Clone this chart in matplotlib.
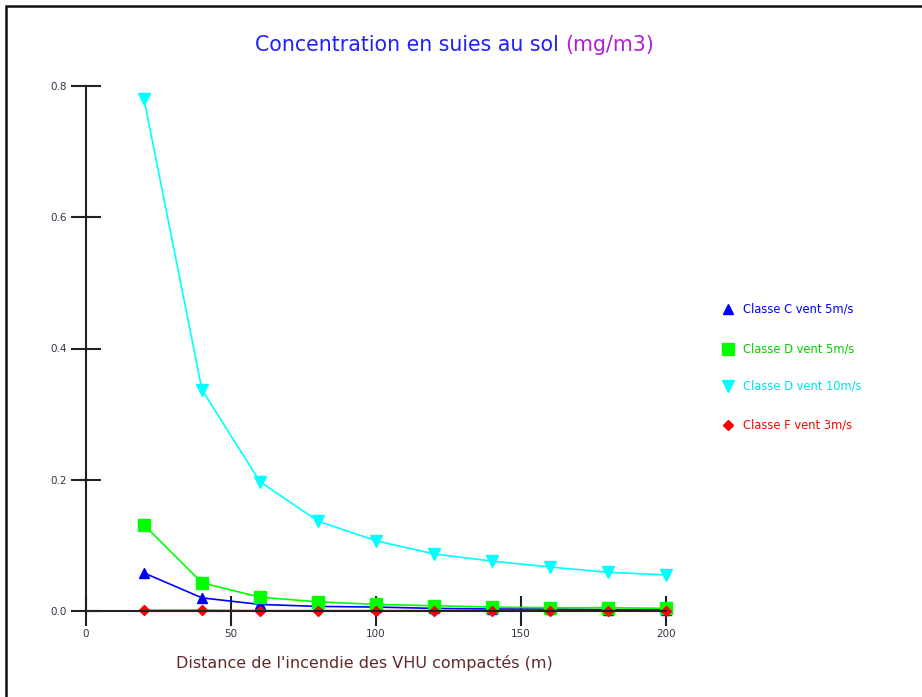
import matplotlib
matplotlib.use("Agg")
import matplotlib.pyplot as plt
from matplotlib.lines import Line2D
from matplotlib.patches import Rectangle

plt.rcParams['font.family'] = ['DejaVu Sans']

distance = [20, 40, 60, 80, 100, 120, 140, 160, 180, 200]
classe_c_5 = [0.058, 0.020, 0.010, 0.007, 0.006, 0.004, 0.003, 0.003, 0.002, 0.002]
classe_d_5 = [0.131, 0.043, 0.021, 0.014, 0.010, 0.008, 0.006, 0.005, 0.005, 0.004]
classe_d_10 = [0.780, 0.337, 0.197, 0.137, 0.107, 0.087, 0.076, 0.067, 0.059, 0.055]
classe_f_3 = [0.001, 0.001, 0.0005, 0.0005, 0.0005, 0.0005, 0.0005, 0.0005, 0.0005, 0.0005]

series_labels = ["Classe C vent 5m/s", "Classe D vent 5m/s", "Classe D vent 10m/s", "Classe F vent 3m/s"]
series_colors = ["#0000ff", "#00ff00", "#00ffff", "#ff0000"]
text_colors = ["#0000ff", "#00d000", "#00e0f0", "#ff0000"]
series_markers = ["^", "s", "v", "D"]
series_sizes = [7, 8, 8, 5]

xticks = [0, 50, 100, 150, 200]
yticks = [0.0, 0.2, 0.4, 0.6, 0.8]

W, H = 922, 697
fig = plt.figure(figsize=(W / 100, H / 100), dpi=100)

# outer frame
fig.patches.append(Rectangle((6 / W, -0.05), 1.1, 1 - 6 / H + 0.05, transform=fig.transFigure,
                             fill=False, edgecolor="#111111", linewidth=1.8))

ax = fig.add_axes([86 / W, 1 - 611 / H, 580 / W, 525 / H])
ax.set_xlim(0, 200)
ax.set_ylim(0, 0.8)

data = [classe_c_5, classe_d_5, classe_d_10, classe_f_3]
for vals, col, mk, ms in zip(data, series_colors, series_markers, series_sizes):
    ax.plot(distance, vals, color=col, marker=mk, markersize=ms, linewidth=1.2,
            markeredgecolor=col, clip_on=False, zorder=3)

for s in ["top", "right"]:
    ax.spines[s].set_visible(False)
for s in ["left", "bottom"]:
    ax.spines[s].set_color("#222222")
    ax.spines[s].set_linewidth(1.5)
    ax.spines[s].set_zorder(4)

ax.set_xticks(xticks)
ax.set_xticklabels([str(v) for v in xticks])
ax.set_yticks(yticks)
ax.set_yticklabels([f"{v:.1f}" for v in yticks])
ax.tick_params(axis="both", direction="inout", length=22, width=1.5, color="#222222",
               labelsize=7.5, labelcolor="#333344", pad=3)
ax.tick_params(axis="x", pad=2)

title_left = fig.text(455 / W, 1 - 45 / H, "Concentration en suies au sol ", color="#2020ff",
                      fontsize=14.8, ha="right", va="center")
title_right = fig.text(455 / W, 1 - 45 / H, "(mg/m3)", color="#b020d0",
                       fontsize=14.8, ha="left", va="center")
# center the two-part title as a whole
fig.canvas.draw()
r = fig.canvas.get_renderer()
wl = title_left.get_window_extent(r).width
wr = title_right.get_window_extent(r).width
cx = 455 + (wl - wr) / 2
title_left.set_x(cx / W)
title_right.set_x(cx / W)

fig.text(364 / W, 1 - 663 / H, "Distance de l'incendie des VHU compactés (m)", color="#602a2a",
         fontsize=11.5, ha="center", va="center")

legend_y = [309, 349, 386, 425]
for lab, col, tcol, mk, ms, yy in zip(series_labels, series_colors, text_colors,
                                      series_markers, series_sizes, legend_y):
    fig.add_artist(Line2D([728 / W], [1 - yy / H], marker=mk, color=col, markersize=ms,
                          markeredgecolor=col, linestyle="none", transform=fig.transFigure))
    fig.text(743 / W, 1 - yy / H, lab, color=tcol, fontsize=8.3, ha="left", va="center")

fig.savefig("out.png", dpi=100)
